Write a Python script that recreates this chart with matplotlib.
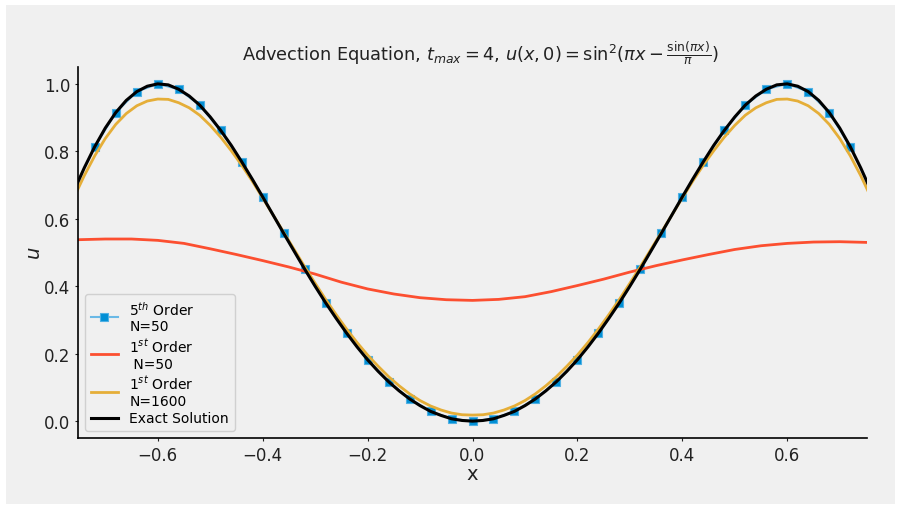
import numpy as np
import matplotlib
matplotlib.use("Agg")
import matplotlib.pyplot as plt
from matplotlib.patches import Rectangle

# x grid for the smooth curves (step 0.02)
x_fine = np.linspace(-0.76, 0.76, 77)

# exact solution
u_exact = [0.682, 0.751, 0.814, 0.869, 0.915, 0.951, 0.977, 0.993, 1.000, 0.997,
           0.984, 0.964, 0.937, 0.902, 0.862, 0.818, 0.769, 0.718, 0.665, 0.611,
           0.557, 0.504, 0.451, 0.400, 0.351, 0.305, 0.261, 0.220, 0.182, 0.148,
           0.117, 0.090, 0.066, 0.046, 0.029, 0.017, 0.007, 0.002, 0.000, 0.002,
           0.007, 0.017, 0.029, 0.046, 0.066, 0.090, 0.117, 0.148, 0.182, 0.220,
           0.261, 0.305, 0.351, 0.400, 0.451, 0.504, 0.557, 0.611, 0.665, 0.718,
           0.769, 0.818, 0.862, 0.902, 0.937, 0.964, 0.984, 0.997, 1.000, 0.993,
           0.977, 0.951, 0.915, 0.869, 0.814, 0.751, 0.682]

# 1st order, N=1600
u_first_1600 = [0.662, 0.728, 0.787, 0.838, 0.880, 0.912, 0.935, 0.949, 0.955, 0.954,
                0.944, 0.929, 0.907, 0.877, 0.842, 0.802, 0.759, 0.712, 0.662, 0.611,
                0.560, 0.509, 0.458, 0.409, 0.361, 0.316, 0.273, 0.233, 0.196, 0.163,
                0.132, 0.105, 0.081, 0.061, 0.045, 0.033, 0.024, 0.019, 0.018, 0.019,
                0.024, 0.033, 0.045, 0.061, 0.081, 0.105, 0.132, 0.163, 0.196, 0.233,
                0.273, 0.316, 0.361, 0.409, 0.458, 0.509, 0.560, 0.611, 0.662, 0.712,
                0.759, 0.802, 0.842, 0.877, 0.907, 0.929, 0.944, 0.954, 0.955, 0.949,
                0.935, 0.912, 0.880, 0.838, 0.787, 0.728, 0.662]

# 1st order, N=50
x_first_50 = np.linspace(-0.75, 0.75, 31)
u_first_50 = [0.538, 0.540, 0.540, 0.536, 0.527, 0.511, 0.494, 0.476, 0.457, 0.436,
              0.412, 0.392, 0.377, 0.366, 0.360, 0.358, 0.361, 0.369, 0.384, 0.402,
              0.421, 0.442, 0.461, 0.478, 0.494, 0.509, 0.520, 0.527, 0.531, 0.532,
              0.530]

# 5th order, N=50
x_fifth = np.linspace(-0.72, 0.72, 37)
u_fifth = [0.814, 0.915, 0.977, 1.000, 0.984, 0.937, 0.862, 0.769, 0.665, 0.557,
           0.451, 0.351, 0.261, 0.182, 0.117, 0.066, 0.029, 0.007, 0.000, 0.007,
           0.029, 0.066, 0.117, 0.182, 0.261, 0.351, 0.451, 0.557, 0.665, 0.769,
           0.862, 0.937, 0.984, 1.000, 0.977, 0.915, 0.814]

bg = '#f0f0f0'
fig = plt.figure(figsize=(9.01, 5.10), dpi=100, facecolor='white')
fig.patches.append(Rectangle((6 / 901, 5 / 510), 889 / 901, 499 / 510,
                             transform=fig.transFigure, facecolor=bg,
                             edgecolor='none', zorder=-10))
ax = fig.add_axes([78 / 901, 71 / 510, 789 / 901, 371 / 510])
ax.set_facecolor(bg)

ax.plot(x_fifth, u_fifth, '-s', color='#6ab9e6', lw=1.5, ms=6,
        mfc='#008fd5', mec='#4fb0e3', mew=0.8, label='5$^{th}$ Order\nN=50')
ax.plot(x_first_50, u_first_50, color='#fc4f30', lw=2,
        label='1$^{st}$ Order\n N=50')
ax.plot(x_fine, u_first_1600, color='#e5ae38', lw=2,
        label='1$^{st}$ Order\nN=1600')
ax.plot(x_fine, u_exact, color='black', lw=2.2, label='Exact Solution')

ax.set_xlim(-0.752, 0.752)
ax.set_ylim(-0.05, 1.05)
ax.set_xticks([-0.6, -0.4, -0.2, 0.0, 0.2, 0.4, 0.6])
ax.set_yticks([0.0, 0.2, 0.4, 0.6, 0.8, 1.0])

for s in ['top', 'right']:
    ax.spines[s].set_visible(False)
for s in ['left', 'bottom']:
    ax.spines[s].set_color('black')
    ax.spines[s].set_linewidth(1.2)
ax.tick_params(labelsize=12, length=2, width=0.8, colors='#222222')

ax.set_title(r'Advection Equation, $t_{max} = 4$, '
             r'$u(x,0) = \mathrm{sin}^2(\pi x - \frac{\sin(\pi x)}{\pi})$',
             fontsize=12.8, color='#222222', pad=5, x=0.51)
ax.set_xlabel('x', fontsize=14, color='#222222', labelpad=0)
ax.set_ylabel('$u$', fontsize=14, color='#222222', labelpad=0)

leg = ax.legend(loc='lower left', fontsize=10, facecolor=bg,
                edgecolor='#d0d0d0', framealpha=1, labelspacing=0.25)

fig.savefig('out.png', dpi=100, facecolor='white')
